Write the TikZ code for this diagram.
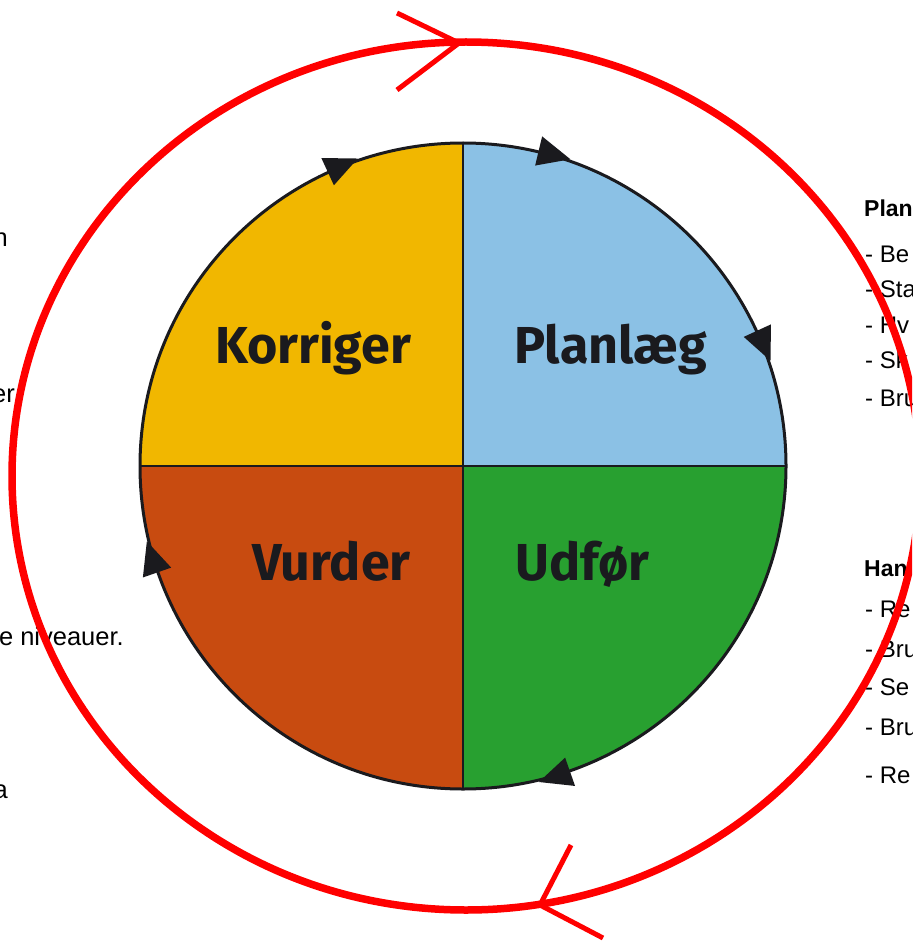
\documentclass[tikz,border=0pt]{standalone}
\usepackage{fontspec}
\setmainfont{Liberation Sans}
\newfontfamily\dinfont{Fira Sans}
\usetikzlibrary{calc}
\definecolor{qyellow}{RGB}{241,183,0}
\definecolor{qblue}{RGB}{139,193,229}
\definecolor{qorange}{RGB}{200,75,16}
\definecolor{qgreen}{RGB}{40,160,48}
\definecolor{qdark}{RGB}{26,26,30}
\definecolor{qred}{RGB}{255,0,0}
\tikzset{
  quadlabel/.style={anchor=base,inner sep=0pt,text=qdark,font=\dinfont\bfseries\fontsize{52}{60}\selectfont},
  lefttext/.style={inner sep=0pt,text=black,font=\fontsize{25.5}{30}\selectfont},
  sidetext/.style={inner sep=0pt,text=black,font=\fontsize{24}{28}\selectfont},
  sidehead/.style={inner sep=0pt,text=black,font=\bfseries\fontsize{23}{28}\selectfont},
  cyclearrow/.style={fill=qdark},
  redline/.style={draw=qred,line width=7.5pt},
  redtip/.style={draw=qred,line width=5pt},
}
\newcommand\cyctip[1]{\fill[cyclearrow] ($(C)+(#1:325)$) -- ($(C)+(#1+5.8:339)$) -- ($(C)+(#1+5.8:309)$) -- cycle;}
\begin{document}
\begin{tikzpicture}[x=1pt,y=1pt]
\useasboundingbox (0,0) rectangle (912,-941);
\clip (0,0) rectangle (912,-941);
\coordinate (C) at (463,-466);
% quadrants
\fill[qyellow] (C) -- ++(180:323) arc[start angle=180,end angle=90,radius=323] -- cycle;
\fill[qblue] (C) -- ++(90:323) arc[start angle=90,end angle=0,radius=323] -- cycle;
\fill[qgreen] (C) -- ++(0:323) arc[start angle=360,end angle=270,radius=323] -- cycle;
\fill[qorange] (C) -- ++(270:323) arc[start angle=270,end angle=180,radius=323] -- cycle;
\draw[qdark,line width=3pt] (C) circle[radius=323];
\draw[qdark,line width=2.5pt] ($(C)+(-323,0)$) -- ($(C)+(323,0)$);
\draw[qdark,line width=2.5pt] ($(C)+(0,323)$) -- ($(C)+(0,-323)$);
% small arrows (clockwise)
\cyctip{108.9}
\cyctip{70.7}
\cyctip{18.9}
\cyctip{-76.5}
\cyctip{193.4}
% labels
\node[quadlabel] (korr) at (313,-363) {Korriger};
\node[quadlabel] (plan) at (610.5,-363) {Planlæg};
\node[quadlabel] (vurd) at (331.5,-580) {Vurder};
\node[quadlabel] (udf) at (582.5,-580) {Udfør};
% left text fragments
\node[lefttext,anchor=base east] (l1) at (8,-247) {n};
\node[lefttext,anchor=base east] (l2) at (15,-402) {er};
\node[lefttext,anchor=base east] (l3) at (124,-645) {e niveauer.};
\node[lefttext,anchor=base east] (l4) at (8,-798) {a};
% right text fragments
\node[sidehead,anchor=base west] (r0) at (864,-217) {Plan};
\node[sidetext,anchor=base west] (r1) at (865,-262) {- Be};
\node[sidetext,anchor=base west] (r2) at (865,-297) {- Sta};
\node[sidetext,anchor=base west] (r3) at (865,-333) {- Hv};
\node[sidetext,anchor=base west] (r4) at (865,-368) {- Sk};
\node[sidetext,anchor=base west] (r5) at (865,-406) {- Bru};
\node[sidehead,anchor=base west] (h0) at (864,-576) {Han};
\node[sidetext,anchor=base west] (h1) at (865,-617) {- Re};
\node[sidetext,anchor=base west] (h2) at (865,-657) {- Bru};
\node[sidetext,anchor=base west] (h3) at (865,-695) {- Se};
\node[sidetext,anchor=base west] (h4) at (865,-735) {- Bru};
\node[sidetext,anchor=base west] (h5) at (865,-783) {- Re};
% red cycle
\draw[redline] (466,-476) ellipse[x radius=454,y radius=434];
\coordinate (ttip) at (459,-43);
\coordinate (ta) at (397,-13);
\coordinate (tb) at (397,-90);
\draw[redtip] (ta) -- (ttip) -- (tb);
\coordinate (btip) at (540,-905);
\coordinate (ba) at (571,-845);
\coordinate (bb) at (603,-938);
\draw[redtip] (ba) -- (btip) -- (bb);
\end{tikzpicture}
\end{document}
